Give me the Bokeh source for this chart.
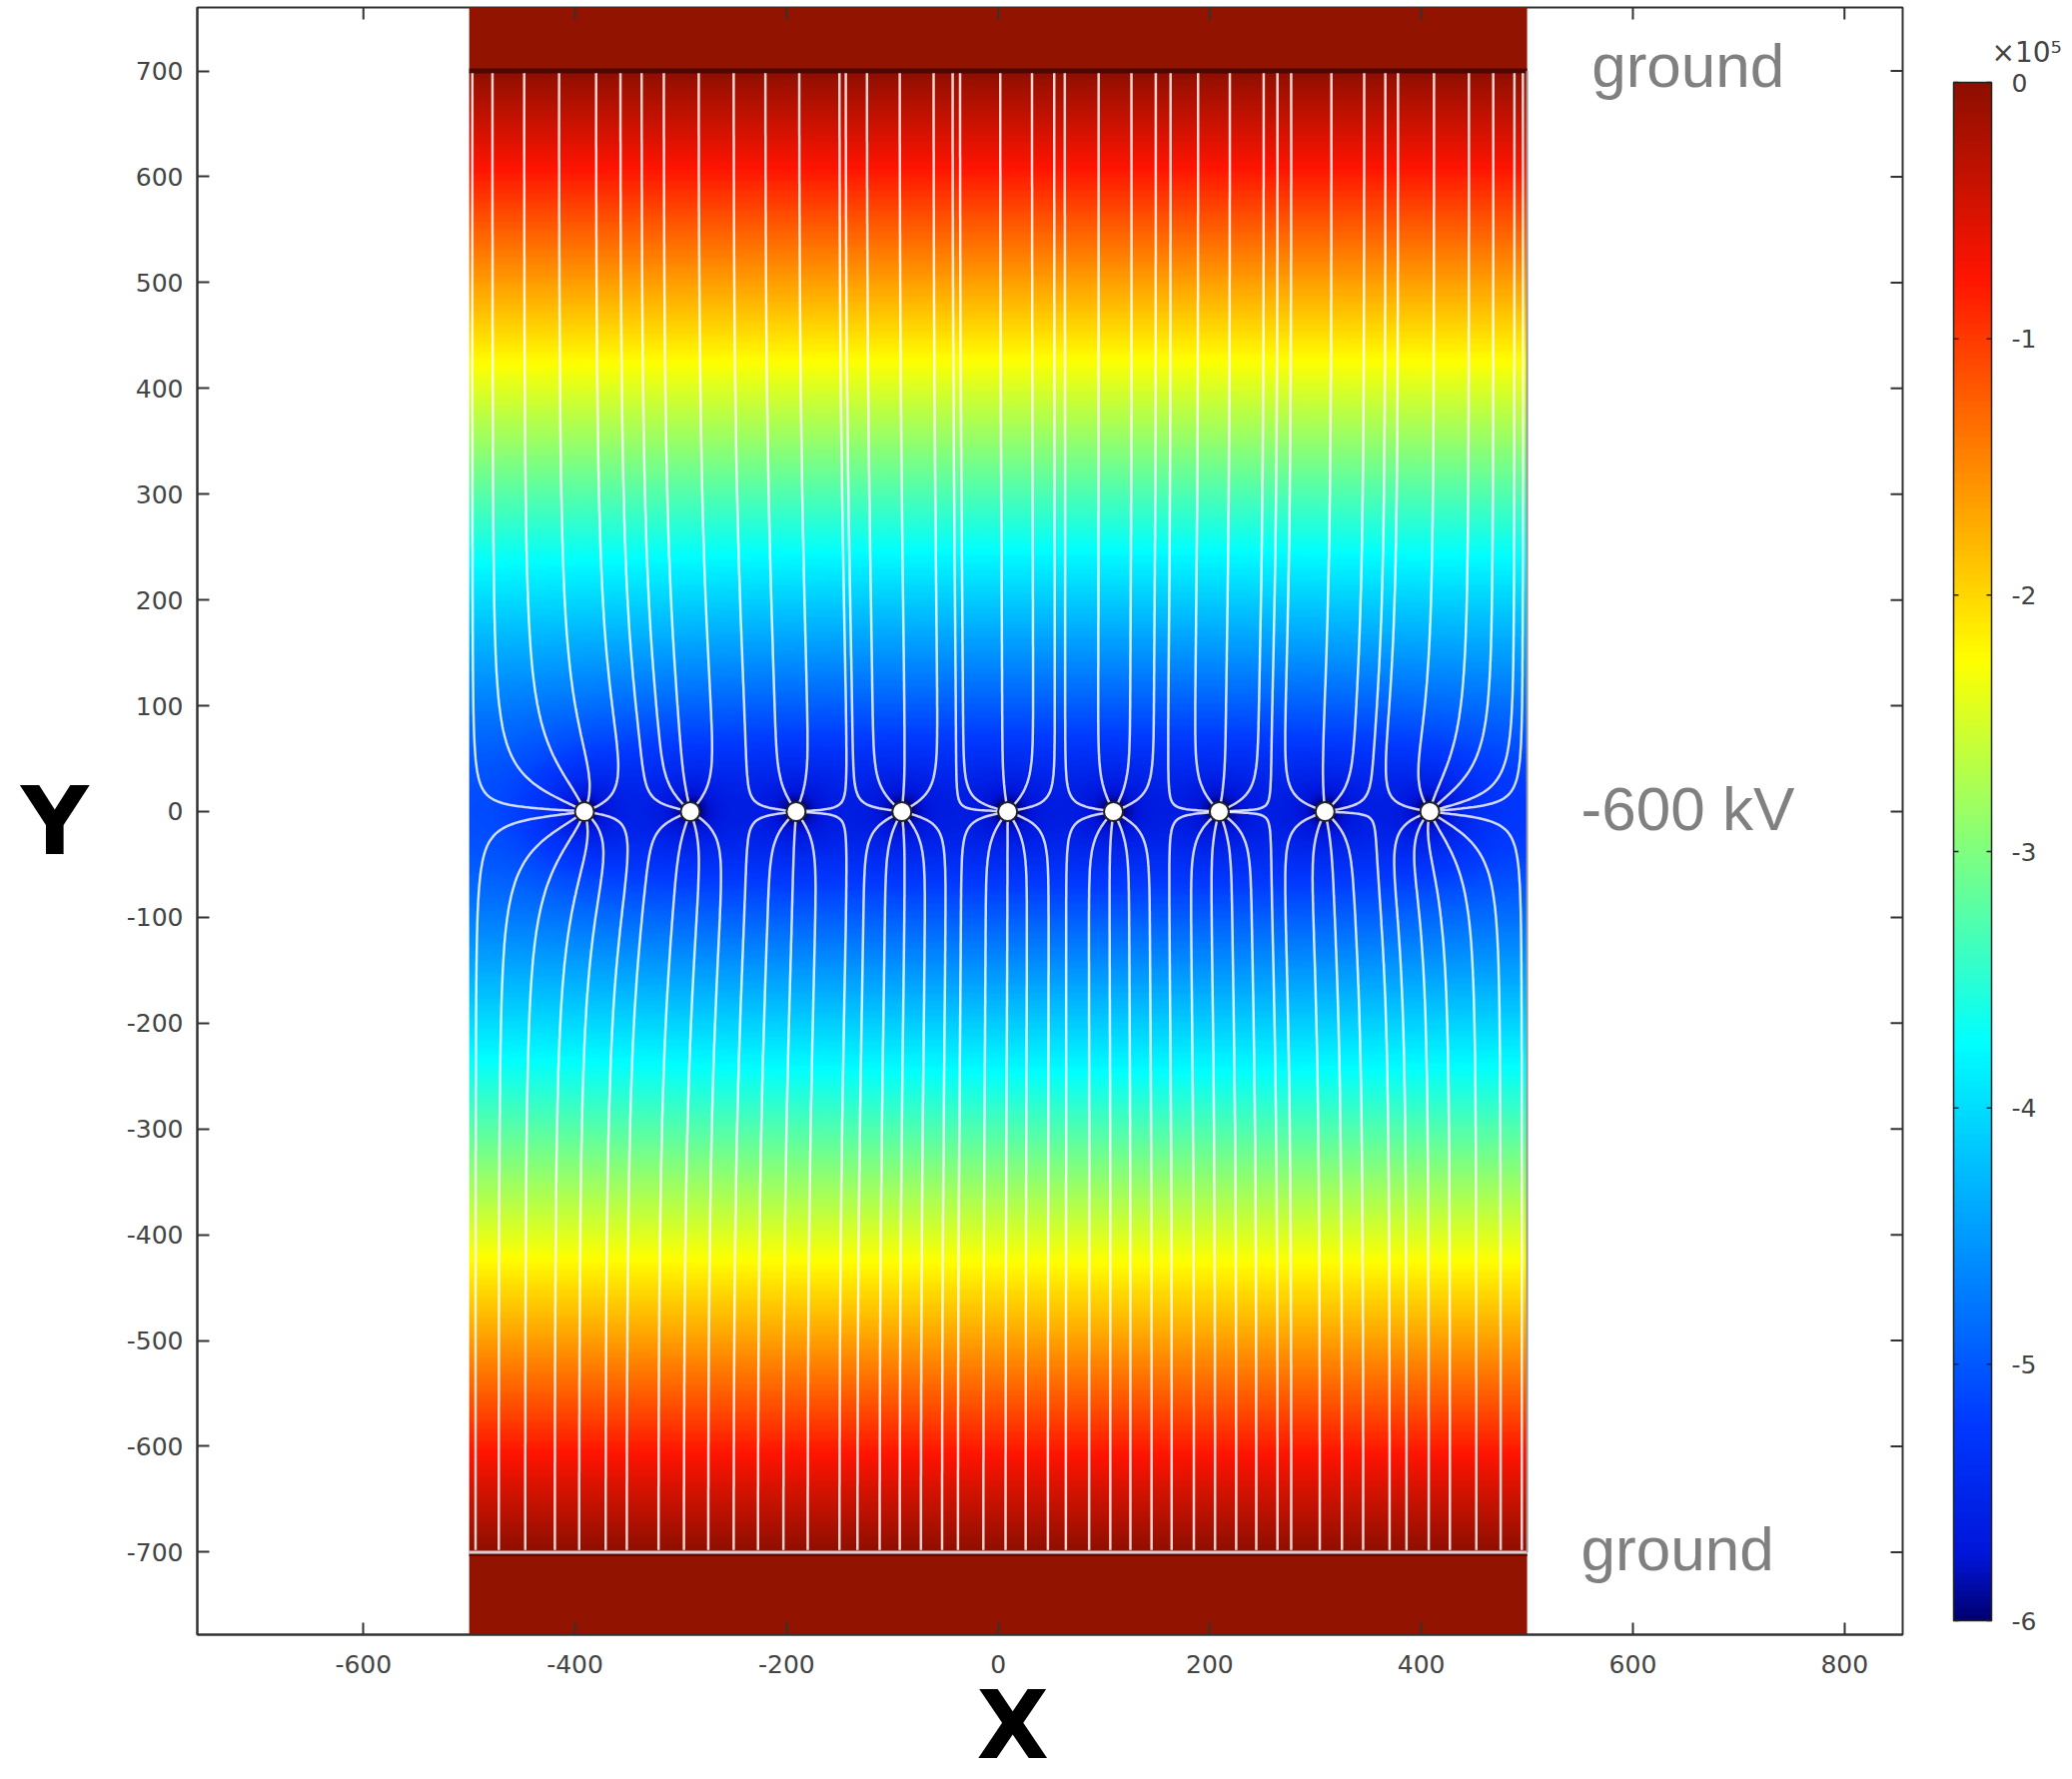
import numpy as np
from bokeh.plotting import figure
from bokeh.models import Range1d, FixedTicker, LinearColorMapper, Title
from bokeh.core.properties import value
from bokeh.layouts import row
from bokeh.embed import file_html
from bokeh.resources import INLINE

# ---------------- data ----------------
WIRE_X = [-391, -291, -191, -91, 9, 109, 209, 309, 408]   # conductor centres
WIRE_Y = 0.0
WIRE_KV = -600.0                                          # conductor potential, kV
WIRE_RADIUS = 8.0                                         # conductor radius (model)
GROUND_Y = [700.0, -700.0]                                # grounded plates
DOMAIN_X = [-500.0, 500.0]
TOP_SEEDS_X = [-497, -478, -448, -415, -380, -357, -337, -316, -283, -250, -220,
               -188, -150, -144, -124, -93, -61, -43, -36, 2, 32, 53, 63, 95, 126,
               149, 163, 189, 219, 251, 264, 277, 315, 346, 366, 378, 412, 445,
               468, 488, 496]
BOTTOM_SEEDS_X = [-494, -472, -447, -419, -396, -371, -351, -321, -297, -274, -250,
                  -227, -203, -180, -150, -133, -112, -93, -73, -53, -38, -14, 7,
                  26, 47, 64, 86, 106, 125, 145, 164, 185, 205, 225, 244, 264, 277,
                  304, 325, 345, 370, 386, 407, 427, 452, 475, 495]
X_TICKS = [-600, -400, -200, 0, 200, 400, 600, 800]
Y_TICKS = [-700, -600, -500, -400, -300, -200, -100, 0, 100, 200, 300, 400, 500, 600, 700]
CB_TICKS = [-6, -5, -4, -3, -2, -1, 0]
CB_RANGE = [-6.0, 0.0]          # x 10^5 V
LABEL_GROUND = "ground"
LABEL_WIRES = "-600 kV"
TEXT_X = [561, 551, 551]
TEXT_Y = [705, 3, -697]

# ---------------- electrostatic model (line charges in grounded strip) ----------------
H = (GROUND_Y[0] - GROUND_Y[1]) / 2.0
Y0 = (GROUND_Y[0] + GROUND_Y[1]) / 2.0
XL, XR = DOMAIN_X
WD = XR - XL
nw = len(WIRE_X)
src_x, src_i = [], []
for k in range(-2, 3):
    for i, x0 in enumerate(WIRE_X):
        src_x.append(x0 + 2 * WD * k); src_i.append(i)
        src_x.append(2 * XR - x0 + 2 * WD * k); src_i.append(i)
src_x = np.array(src_x, float)
src_i = np.array(src_i)
cc = np.pi / (2 * H)


def wmap(z):
    return np.exp(cc * ((z - 1j * Y0) + 1j * H))


w0 = wmap(src_x + 1j * WIRE_Y)
w0c = np.conj(w0)

zt = np.array(WIRE_X, float) + WIRE_RADIUS + 1j * WIRE_Y
wt = wmap(zt)[:, None]
Gm = -np.log(np.abs((wt - w0[None, :]) / (wt - w0c[None, :])))
A = np.zeros((nw, nw))
for s in range(len(src_x)):
    A[:, src_i[s]] += Gm[:, s]
q = np.linalg.solve(A, np.full(nw, WIRE_KV))
qs = q[src_i]

NX, NY = 500, 700
gx = XL + (np.arange(NX) + 0.5) * (WD / NX)
gy = GROUND_Y[1] + (np.arange(NY) + 0.5) * (2 * H / NY)
WZ = wmap(gx[None, :] + 1j * gy[:, None])
V = np.zeros(WZ.shape)
for s in range(len(src_x)):
    V += qs[s] * -np.log(np.abs((WZ - w0[s]) / (WZ - w0c[s])))
V = (np.clip(V, WIRE_KV, 0.0) / 100.0).astype(np.float32)   # in 1e5 V


def efield(z):
    wz = wmap(z)[:, None]
    dphi = (qs[None, :] * (-cc * wz) * (1.0 / (wz - w0[None, :]) - 1.0 / (wz - w0c[None, :]))).sum(axis=1)
    return -np.conj(dphi)


def direction(z):
    e = efield(z)
    m = np.abs(e)
    m[m == 0] = 1.0
    return e / m


wires_c = np.array(WIRE_X, float) + 1j * WIRE_Y


def trace(seeds, ystart):
    z = np.array(seeds, float) + 1j * ystart
    paths = [[p] for p in z]
    alive = np.ones(len(z), bool)
    hstep = 1.5
    for _ in range(3000):
        idx = np.where(alive)[0]
        if len(idx) == 0:
            break
        zz = z[idx]
        k1 = direction(zz)
        k2 = direction(zz + hstep / 2 * k1)
        k3 = direction(zz + hstep / 2 * k2)
        k4 = direction(zz + hstep * k3)
        zn = zz + hstep / 6 * (k1 + 2 * k2 + 2 * k3 + k4)
        zn = np.clip(zn.real, XL, XR) + 1j * zn.imag
        z[idx] = zn
        for j, pnt in zip(idx, zn):
            paths[j].append(pnt)
        dist = np.min(np.abs(zn[:, None] - wires_c[None, :]), axis=1)
        done = (dist < 8.0) | (np.abs(zn.imag - Y0) > H)
        alive[idx[done]] = False
    xs, ys = [], []
    for pth in paths:
        arr = np.array(pth)[::2]
        xs.append(np.round(arr.real, 1).tolist())
        ys.append(np.round(arr.imag, 1).tolist())
    return xs, ys


tx, ty = trace(TOP_SEEDS_X, GROUND_Y[0] - 2)
bx, by = trace(BOTTOM_SEEDS_X, GROUND_Y[1] + 2)

# jet-like colour table (stops: position, r, g, b)
STOPS = [(0.0, 0.0, 0.0, 0.45), (0.04, 0.0, 0.08, 0.85), (0.125, 0.0, 0.22, 1.0),
         (0.375, 0.0, 1.0, 1.0), (0.5, 0.5, 1.0, 0.5), (0.625, 1.0, 1.0, 0.0),
         (0.875, 1.0, 0.08, 0.0), (1.0, 0.56, 0.06, 0.0)]
st = np.array(STOPS)
tt = np.linspace(0, 1, 256)
rr = np.interp(tt, st[:, 0], st[:, 1])
gg = np.interp(tt, st[:, 0], st[:, 2])
bb = np.interp(tt, st[:, 0], st[:, 3])
PALETTE = ["#%02x%02x%02x" % (int(r * 255), int(g * 255), int(b * 255)) for r, g, b in zip(rr, gg, bb)]
mapper = LinearColorMapper(palette=PALETTE, low=CB_RANGE[0], high=CB_RANGE[1])

TICK_FONT = "DejaVu Sans"
AX_COLOR = "#333333"
LABEL_COLOR = "#444444"

# ---------------- main figure ----------------
XR_VIEW = (-757.0, 855.0)
YR_VIEW = (-778.0, 760.0)
FRAME_W, FRAME_H = 1707, 1629
p = figure(width=1930, height=1781, x_range=Range1d(*XR_VIEW), y_range=Range1d(*YR_VIEW),
           output_backend="svg", toolbar_location=None,
           min_border_left=197, min_border_right=26, min_border_top=7, min_border_bottom=145)
p.background_fill_color = "white"
p.border_fill_color = "white"
p.xgrid.visible = False
p.ygrid.visible = False
p.outline_line_color = AX_COLOR
p.outline_line_width = 2

p.image(image=[V], x=XL, y=GROUND_Y[1], dw=WD, dh=2 * H, color_mapper=mapper)

PLATE_COLOR = "#921400"
p.quad(left=[XL, XL], right=[XR, XR], bottom=[GROUND_Y[0], GROUND_Y[1] - 100],
       top=[GROUND_Y[0] + 100, GROUND_Y[1]], fill_color=PLATE_COLOR, line_color=None)
p.line(x=DOMAIN_X, y=[GROUND_Y[0], GROUND_Y[0]], line_color="#4a0800", line_width=5)
p.line(x=DOMAIN_X, y=[GROUND_Y[1] - 3, GROUND_Y[1] - 3], line_color="#5a0a00", line_width=2)
p.line(x=DOMAIN_X, y=[GROUND_Y[1], GROUND_Y[1]], line_color="#d8d0d0", line_width=3)
p.line(x=[XR, XR], y=GROUND_Y, line_color="#999999", line_width=2)

p.multi_line(xs=tx + bx, ys=ty + by, line_color="white", line_alpha=0.82, line_width=2.5)
p.circle(x=WIRE_X, y=[WIRE_Y] * nw, radius=9, fill_color="white", line_color="#222222", line_width=2)

for ax in (p.xaxis[0], p.yaxis[0]):
    ax.major_tick_in = 12
    ax.major_tick_out = 0
    ax.minor_tick_line_color = None
    ax.major_tick_line_color = AX_COLOR
    ax.major_tick_line_width = 2
    ax.axis_line_color = AX_COLOR
    ax.axis_line_width = 2
    ax.major_label_text_font = TICK_FONT
    ax.major_label_text_font_size = "25px"
    ax.major_label_text_color = LABEL_COLOR
    ax.axis_label_text_font = "DejaVu Sans"
    ax.axis_label_text_font_style = "bold"
    ax.axis_label_text_font_size = "94px"
    ax.axis_label_text_color = "black"
p.xaxis.ticker = FixedTicker(ticks=X_TICKS)
p.yaxis.ticker = FixedTicker(ticks=Y_TICKS)
p.xaxis.major_label_overrides = {t: str(t) for t in X_TICKS}
p.yaxis.major_label_overrides = {t: str(t) for t in Y_TICKS}
p.xaxis.major_label_standoff = 20
p.yaxis.major_label_standoff = 14
p.yaxis.axis_label = "Y"
p.yaxis.axis_label_orientation = "horizontal"
p.yaxis.axis_label_standoff = 35
p.yaxis.axis_label_text_baseline = "alphabetic"

p.add_layout(Title(text="X", align="left", offset=780, standoff=-14,
                   text_font="DejaVu Sans", text_font_style="bold", text_font_size="94px",
                   text_color="black"), "below")

# inward ticks on the top and right edges of the frame
tlx = 12 * (XR_VIEW[1] - XR_VIEW[0]) / FRAME_W
tly = 12 * (YR_VIEW[1] - YR_VIEW[0]) / FRAME_H
p.segment(x0=X_TICKS, y0=[YR_VIEW[1]] * len(X_TICKS), x1=X_TICKS,
          y1=[YR_VIEW[1] - tly] * len(X_TICKS), line_color=AX_COLOR, line_width=2)
p.segment(x0=[XR_VIEW[1]] * len(Y_TICKS), y0=Y_TICKS, x1=[XR_VIEW[1] - tlx] * len(Y_TICKS),
          y1=Y_TICKS, line_color=AX_COLOR, line_width=2)

p.text(x=TEXT_X, y=TEXT_Y, text=[LABEL_GROUND, LABEL_WIRES, LABEL_GROUND],
       text_font=value("Liberation Sans"), text_font_size="62px", text_color="#808080",
       text_align="left", text_baseline="alphabetic")

# ---------------- colour bar (separate narrow figure, 1 x-unit = 1 px) ----------------
CBW = 144
BAR_L, BAR_R = 25.0, 63.0
bar_px = 1540.0
upp = (CB_RANGE[1] - CB_RANGE[0]) / bar_px
cb_y = (CB_RANGE[0] - (1636 - 1622) * upp, CB_RANGE[1] + (82 - 7) * upp)
cb = figure(width=CBW, height=1781, x_range=Range1d(0, CBW), y_range=Range1d(*cb_y),
            output_backend="svg", toolbar_location=None, x_axis_location=None,
            y_axis_location=None, outline_line_color=None,
            min_border_left=0, min_border_right=0, min_border_top=7, min_border_bottom=145)
cb.xgrid.visible = False
cb.ygrid.visible = False
cb.background_fill_color = "white"
cb.border_fill_color = "white"
grad = np.linspace(CB_RANGE[0], CB_RANGE[1], 512).reshape(-1, 1).astype(np.float32)
cb.image(image=[grad], x=BAR_L, y=CB_RANGE[0], dw=BAR_R - BAR_L, dh=CB_RANGE[1] - CB_RANGE[0],
         color_mapper=mapper)
cb.quad(left=[BAR_L], right=[BAR_R], bottom=[CB_RANGE[0]], top=[CB_RANGE[1]],
        fill_color=None, line_color="#222222", line_width=1.5)
nt = len(CB_TICKS)
cb.segment(x0=[BAR_L] * nt, x1=[BAR_L + 5] * nt, y0=CB_TICKS, y1=CB_TICKS, line_color="#222222", line_width=1.5)
cb.segment(x0=[BAR_R - 5] * nt, x1=[BAR_R] * nt, y0=CB_TICKS, y1=CB_TICKS, line_color="#222222", line_width=1.5)
cb.text(x=[BAR_R + 20] * nt, y=CB_TICKS, text=[str(t) for t in CB_TICKS],
        text_font=value(TICK_FONT), text_font_size="25px", text_color=LABEL_COLOR,
        text_align="left", text_baseline="middle")
cb.text(x=[BAR_R], y=[CB_RANGE[1] + 30 * upp], text=["×10⁵"],
        text_font=value(TICK_FONT), text_font_size="28px", text_color=LABEL_COLOR,
        text_align="left", text_baseline="alphabetic")

layout = row(p, cb)
open("out.html", "w").write(file_html(layout, INLINE))
